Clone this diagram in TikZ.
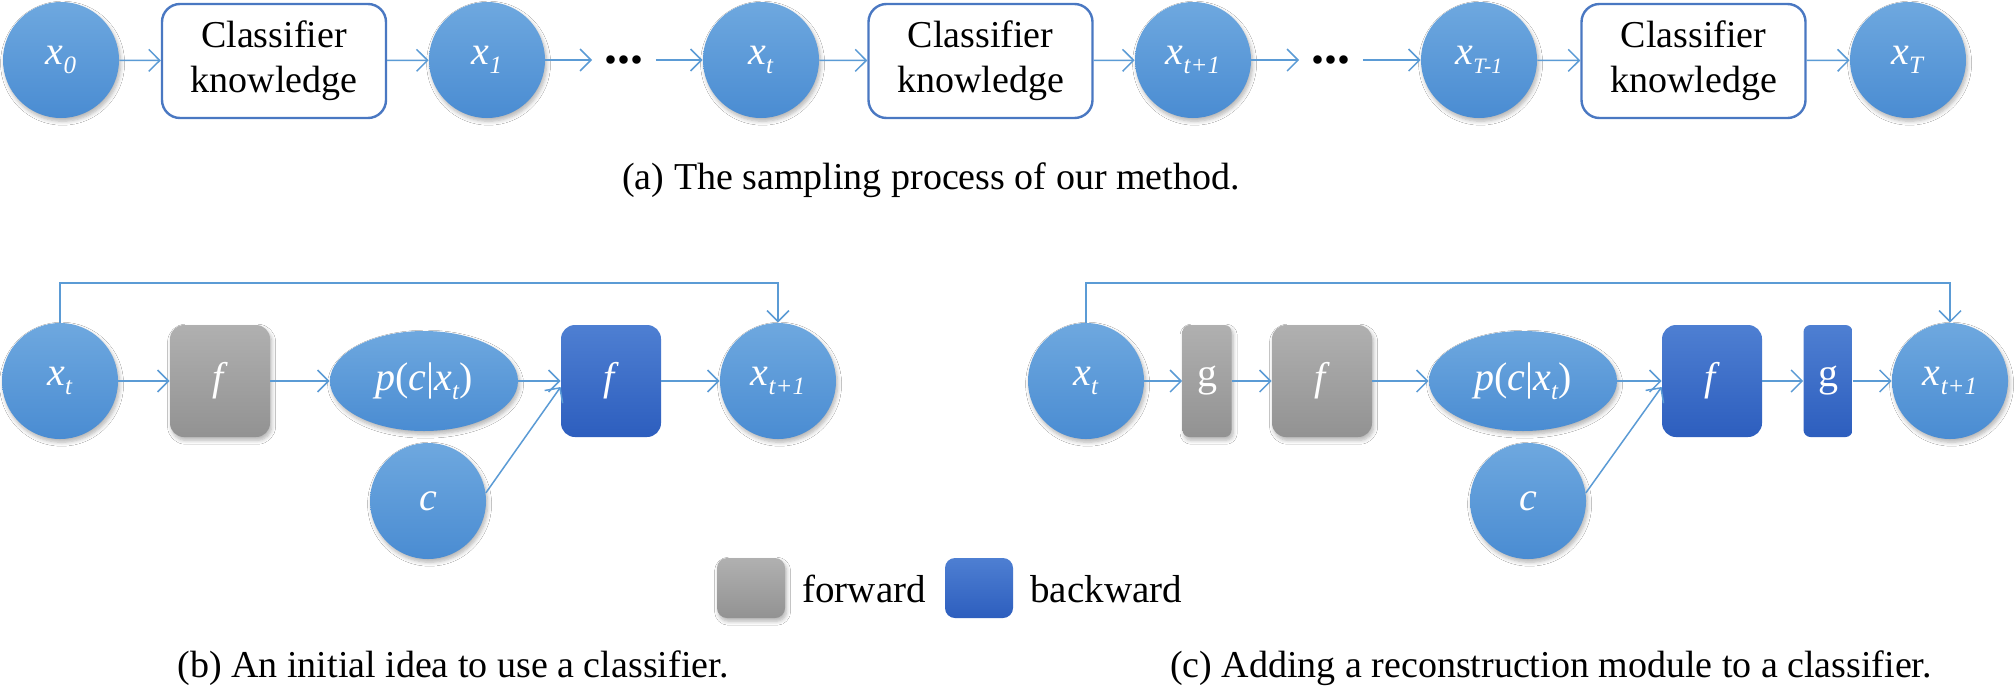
\documentclass[tikz,border=0pt]{standalone}
\usepackage{fontspec}
\setmainfont{Liberation Serif}
\newfontfamily\tnr{Liberation Serif}
\usetikzlibrary{shapes.geometric,arrows.meta,shadows.blur}
\definecolor{cTop}{HTML}{6EA8DF}
\definecolor{cBot}{HTML}{4A8CD2}
\definecolor{gTop}{HTML}{B0B0B0}
\definecolor{gBot}{HTML}{929292}
\definecolor{bTop}{HTML}{4E7FD2}
\definecolor{bBot}{HTML}{2D5EBE}
\definecolor{kBorder}{HTML}{4A78C2}
\definecolor{arrC}{HTML}{5B9BD5}
\newcommand{\xs}[1]{\textit{x}\raisebox{-0.22em}{\fontsize{12.5}{12.5}\selectfont\textit{#1}}}
\newcommand{\xss}[1]{\textit{x}\raisebox{-0.22em}{\fontsize{11}{11}\selectfont\textit{#1}}}
\tikzset{
  lbl/.style={text=white, font=\tnr\fontsize{20}{20}\selectfont},
  shd/.style={blur shadow={shadow xshift=0.8pt, shadow yshift=-1.6pt, shadow opacity=30, shadow blur radius=2pt, shadow blur steps=6}},
  circ/.style={ellipse, minimum width=58pt, minimum height=58pt, inner sep=0pt,
    top color=cTop, bottom color=cBot, draw=none, lbl, shd},
  pell/.style={ellipse, minimum width=94pt, minimum height=50pt, inner sep=0pt,
    top color=cTop, bottom color=cBot, draw=none, lbl, shd},
  kbox/.style={rectangle, rounded corners=9pt, draw=kBorder, line width=1.2pt, fill=white,
    minimum width=112pt, minimum height=57pt, inner sep=0pt, align=center,
    font=\tnr\fontsize{19}{22.5}\selectfont},
  gbox/.style={rectangle, rounded corners=7pt, minimum width=50pt, minimum height=56pt, inner sep=0pt,
    top color=gTop, bottom color=gBot, draw=none, lbl, shd},
  bbox/.style={rectangle, rounded corners=7pt, minimum width=50pt, minimum height=56pt, inner sep=0pt,
    top color=bTop, bottom color=bBot, draw=none, lbl},
  narrow/.style={minimum width=24.5pt, rounded corners=3.5pt},
  dotsn/.style={inner sep=0pt, font=\tnr\fontsize{26}{26}\selectfont\bfseries},
  arr/.style={draw=arrC, line width=0.75pt, -{Straight Barb[length=5.5pt,width=11pt]}},
  captext/.style={font=\tnr\fontsize{19}{19}\selectfont, inner sep=0pt, anchor=base},
  legt/.style={font=\tnr\fontsize{19.5}{19.5}\selectfont, inner sep=0pt, anchor=base west},
}
\begin{document}
\begin{tikzpicture}[x=0.5pt,y=-0.5pt]
\useasboundingbox[fill=white] (0,0) rectangle (2016,686);
% (a) top row
\node[circ] (a0) at (61,60) {\xs{0}};
\node[kbox] (k1) at (274,61) {Classifier\\knowledge};
\node[circ] (a1) at (487,60) {\xs{1}};
\node[dotsn] (d1) at (624,60) {...};
\node[circ] (at) at (761,60) {\xs{t}};
\node[kbox] (k2) at (980.5,61) {Classifier\\knowledge};
\node[circ] (at1) at (1193,60) {\xs{t+1}};
\node[dotsn] (d2) at (1331,60) {...};
\node[circ] (aT1) at (1479,60) {\xss{T-1}};
\node[kbox] (k3) at (1693.5,61) {Classifier\\knowledge};
\node[circ] (aT) at (1908,60) {\xs{T}};
\draw[arr] (a0) -- (k1);
\draw[arr] (k1) -- (a1);
\draw[arr] (a1) -- ([xshift=-6pt]d1.west);
\draw[arr] ([xshift=6pt]d1.east) -- (at);
\draw[arr] (at) -- (k2);
\draw[arr] (k2) -- (at1);
\draw[arr] (at1) -- ([xshift=-6pt]d2.west);
\draw[arr] ([xshift=6pt]d2.east) -- (aT1);
\draw[arr] (aT1) -- (k3);
\draw[arr] (k3) -- (aT);
\node[captext] (capa) at (931,189) {(a) The sampling process of our method.};
% (b)
\node[circ] (bx) at (60,381) {\xs{t}};
\node[gbox] (bf1) at (220,381) {\textit{f}};
\node[pell] (bp) at (424,381) {\textit{p}(\textit{c}|\xs{t})};
\node[bbox] (bf2) at (611,381) {\textit{f}};
\node[circ] (bx1) at (778,381) {\xs{t+1}};
\node[circ] (bc) at (428,501) {\textit{c}};
\draw[arr] (bx) -- (bf1);
\draw[arr] (bf1) -- (bp);
\draw[arr] (bp) -- (bf2);
\draw[arr] (bc.8) -- ([yshift=-3pt]bf2.west);
\draw[arr] (bf2) -- (bx1);
\draw[arr] (bx.north) -- (60,283) -| (bx1.north);
\node[captext] (capb) at (453,677) {(b) An initial idea to use a classifier.};
% (c)
\node[circ] (cx) at (1086,381) {\xs{t}};
\node[gbox,narrow] (cg1) at (1207,381) {g};
\node[gbox] (cf1) at (1322,381) {\textit{f}};
\node[pell] (cp) at (1523,381) {\textit{p}(\textit{c}|\xs{t})};
\node[bbox] (cf2) at (1712,381) {\textit{f}};
\node[bbox,narrow] (cg2) at (1828,381) {g};
\node[circ] (cx1) at (1950,381) {\xs{t+1}};
\node[circ] (cc) at (1528,501) {\textit{c}};
\draw[arr] (cx) -- (cg1);
\draw[arr] (cg1) -- (cf1);
\draw[arr] (cf1) -- (cp);
\draw[arr] (cp) -- (cf2);
\draw[arr] (cc.8) -- ([yshift=-3pt]cf2.west);
\draw[arr] (cf2) -- (cg2);
\draw[arr] (cg2) -- (cx1);
\draw[arr] (cx.north) -- (1086,283) -| (cx1.north);
\node[captext] (capc) at (1551,677) {(c) Adding a reconstruction module to a classifier.};
% legend
\node[gbox, minimum width=34pt, minimum height=30pt, rounded corners=5pt] (lg) at (751,588) {};
\node[legt] (lgt) at (802,602) {forward};
\node[bbox, minimum width=34pt, minimum height=30pt, rounded corners=5pt] (lb) at (979,588) {};
\node[legt] (lbt) at (1030,602) {backward};
\end{tikzpicture}
\end{document}
